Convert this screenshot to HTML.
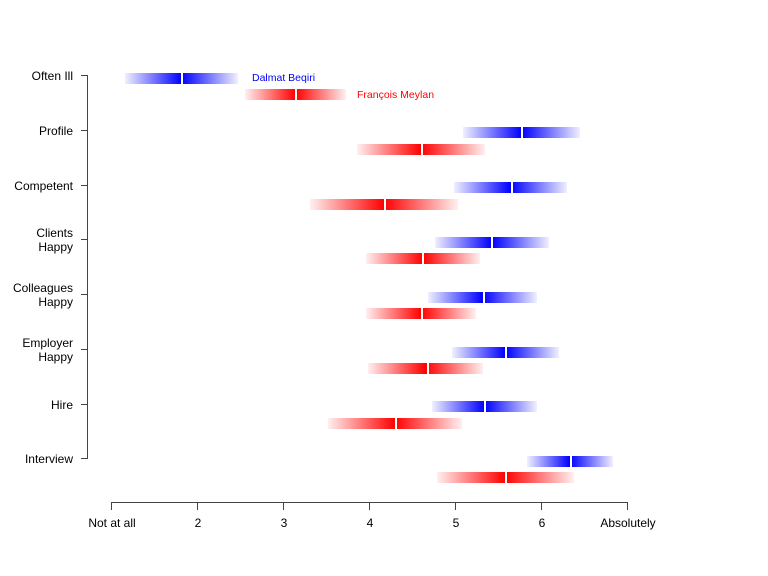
<!DOCTYPE html>
<html>
<head>
<meta charset="utf-8">
<style>
  html,body{margin:0;padding:0;background:#fff;}
  svg{display:block;}
  text{font-family:"Liberation Sans",Arial,sans-serif;}
</style>
</head>
<body>
<svg width="768" height="576" viewBox="0 0 768 576" xmlns="http://www.w3.org/2000/svg">
  <defs>
    <linearGradient id="gb" x1="0" y1="0" x2="1" y2="0">
      <stop offset="0" stop-color="#0000ff" stop-opacity="0.06"/>
      <stop offset="0.5" stop-color="#0000ff" stop-opacity="1"/>
      <stop offset="1" stop-color="#0000ff" stop-opacity="0.06"/>
    </linearGradient>
    <linearGradient id="gr" x1="0" y1="0" x2="1" y2="0">
      <stop offset="0" stop-color="#ff0000" stop-opacity="0.06"/>
      <stop offset="0.5" stop-color="#ff0000" stop-opacity="1"/>
      <stop offset="1" stop-color="#ff0000" stop-opacity="0.06"/>
    </linearGradient>
  </defs>
  <rect width="768" height="576" fill="#fff"/>

  <!-- Y axis -->
  <g stroke="#444" stroke-width="1" shape-rendering="crispEdges" fill="none">
    <line x1="87.5" y1="75" x2="87.5" y2="459"/>
    <line x1="81" y1="75.5" x2="88" y2="75.5"/>
    <line x1="81" y1="130.5" x2="88" y2="130.5"/>
    <line x1="81" y1="185.5" x2="88" y2="185.5"/>
    <line x1="81" y1="239.5" x2="88" y2="239.5"/>
    <line x1="81" y1="294.5" x2="88" y2="294.5"/>
    <line x1="81" y1="349.5" x2="88" y2="349.5"/>
    <line x1="81" y1="404.5" x2="88" y2="404.5"/>
    <line x1="81" y1="458.5" x2="88" y2="458.5"/>
  </g>
  <g font-size="12" fill="#000" text-anchor="end">
    <text x="73" y="80">Often Ill</text>
    <text x="73" y="135">Profile</text>
    <text x="73" y="190">Competent</text>
    <text x="73" y="237">Clients</text>
    <text x="73" y="251">Happy</text>
    <text x="73" y="292">Colleagues</text>
    <text x="73" y="306">Happy</text>
    <text x="73" y="347">Employer</text>
    <text x="73" y="361">Happy</text>
    <text x="73" y="409">Hire</text>
    <text x="73" y="463">Interview</text>
  </g>

  <!-- X axis -->
  <g stroke="#444" stroke-width="1" shape-rendering="crispEdges" fill="none">
    <line x1="111.5" y1="502.5" x2="627.5" y2="502.5"/>
    <line x1="111.5" y1="502" x2="111.5" y2="510"/>
    <line x1="197.5" y1="502" x2="197.5" y2="510"/>
    <line x1="283.5" y1="502" x2="283.5" y2="510"/>
    <line x1="369.5" y1="502" x2="369.5" y2="510"/>
    <line x1="455.5" y1="502" x2="455.5" y2="510"/>
    <line x1="541.5" y1="502" x2="541.5" y2="510"/>
    <line x1="627.5" y1="502" x2="627.5" y2="510"/>
  </g>
  <g font-size="12" fill="#000" text-anchor="middle">
    <text x="112" y="527">Not at all</text>
    <text x="198" y="527">2</text>
    <text x="284" y="527">3</text>
    <text x="370" y="527">4</text>
    <text x="456" y="527">5</text>
    <text x="542" y="527">6</text>
    <text x="628" y="527">Absolutely</text>
  </g>

  <!-- Bars: blue -->
  <g fill="url(#gb)">
    <rect x="125" y="73" width="113" height="11"/>
    <rect x="463" y="127" width="117" height="11"/>
    <rect x="454" y="182" width="113" height="11"/>
    <rect x="435" y="237" width="114" height="11"/>
    <rect x="428" y="292" width="109" height="11"/>
    <rect x="452" y="347" width="107" height="11"/>
    <rect x="432" y="401" width="105" height="11"/>
    <rect x="527" y="456" width="86" height="11"/>
  </g>
  <!-- Bars: red -->
  <g fill="url(#gr)">
    <rect x="245" y="89" width="101" height="11"/>
    <rect x="357" y="144" width="128" height="11"/>
    <rect x="310" y="199" width="148" height="11"/>
    <rect x="366" y="253" width="114" height="11"/>
    <rect x="366" y="308" width="110" height="11"/>
    <rect x="368" y="363" width="115" height="11"/>
    <rect x="328" y="418" width="134" height="11"/>
    <rect x="437" y="472" width="137" height="11"/>
  </g>
  <!-- white separators -->
  <g fill="#fff">
    <rect x="181" y="73" width="2" height="11"/>
    <rect x="295" y="89" width="2" height="11"/>
    <rect x="521" y="127" width="2" height="11"/>
    <rect x="421" y="144" width="2" height="11"/>
    <rect x="511" y="182" width="2" height="11"/>
    <rect x="384" y="199" width="2" height="11"/>
    <rect x="491" y="237" width="2" height="11"/>
    <rect x="422" y="253" width="2" height="11"/>
    <rect x="483" y="292" width="2" height="11"/>
    <rect x="421" y="308" width="2" height="11"/>
    <rect x="505" y="347" width="2" height="11"/>
    <rect x="427" y="363" width="2" height="11"/>
    <rect x="484" y="401" width="2" height="11"/>
    <rect x="395" y="418" width="2" height="11"/>
    <rect x="570" y="456" width="2" height="11"/>
    <rect x="505" y="472" width="2" height="11"/>
  </g>

  <!-- Legend labels -->
  <text x="252" y="81" font-size="10.5" fill="#0000ff">Dalmat Beqiri</text>
  <text x="357" y="98" font-size="10.5" fill="#ff0000">François Meylan</text>
</svg>
</body>
</html>
